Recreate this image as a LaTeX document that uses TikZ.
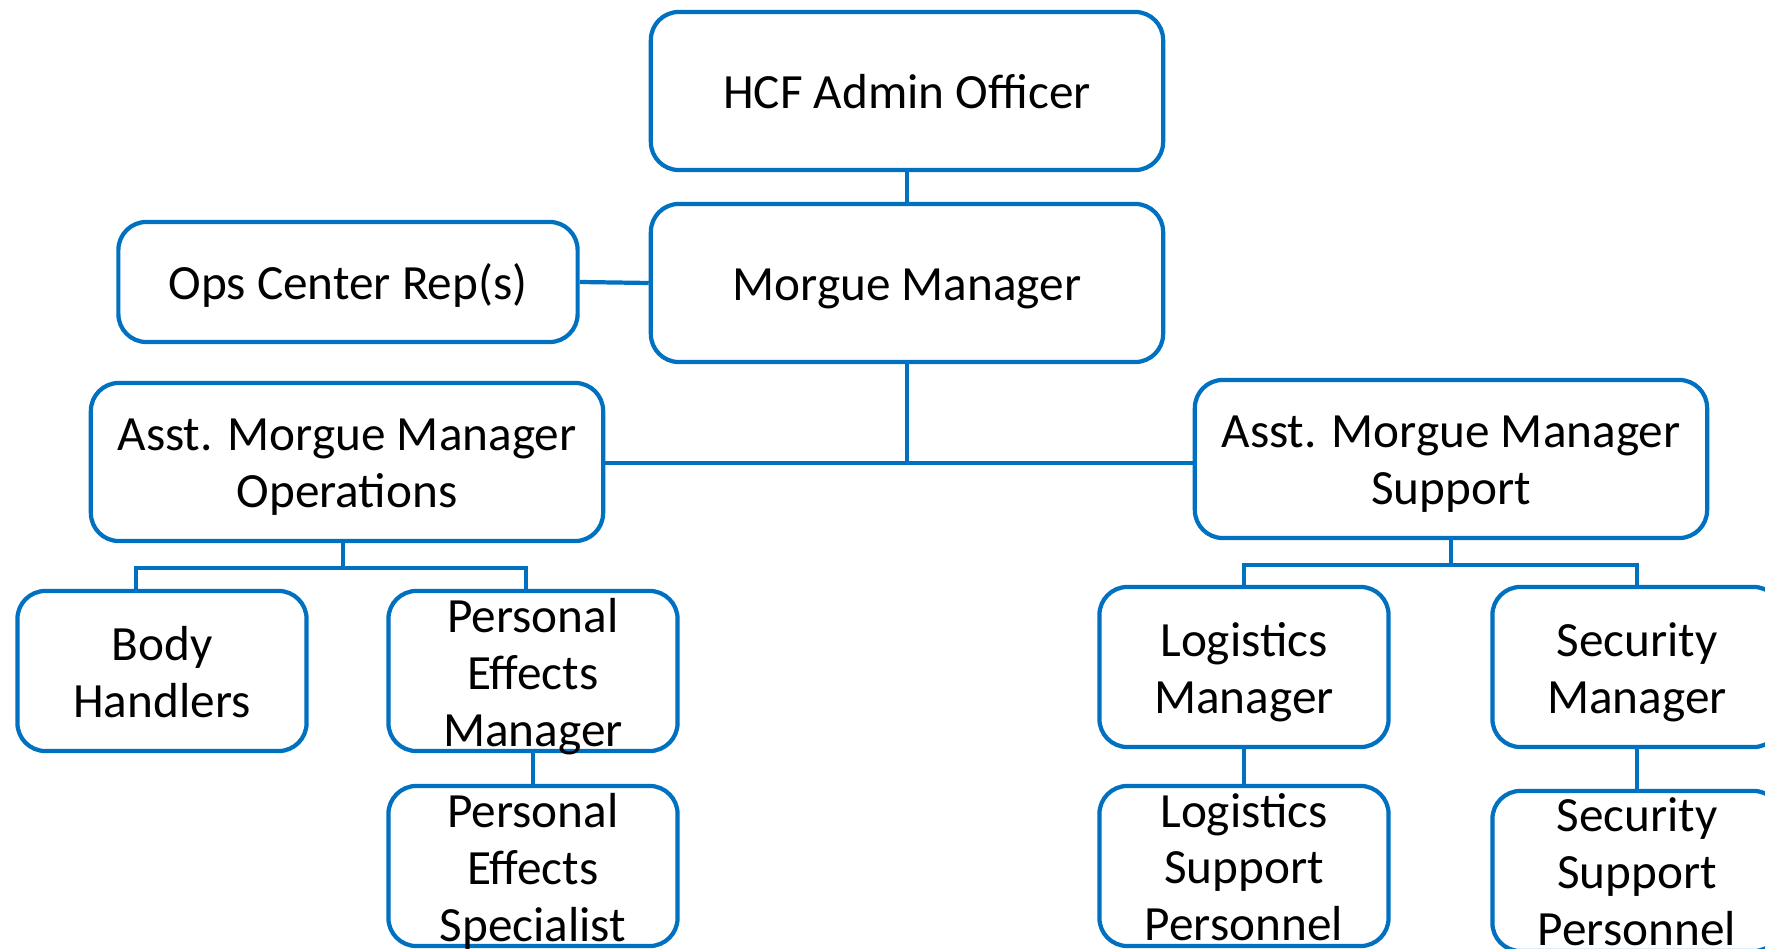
\documentclass[tikz,border=0pt]{standalone}
\usepackage{fontspec}
\setmainfont{Carlito}
\usetikzlibrary{positioning}
\definecolor{orgblue}{RGB}{0,112,192}
\newcommand\orgfont{\fontsize{14}{16.2}\selectfont}

\begin{document}
\begin{tikzpicture}[x=0.01cm,y=-0.01cm]
\tikzset{
  orgbox/.style={draw=orgblue,fill=white,line width=1.2pt,rounded corners=0.28cm,inner sep=2pt},
  widebox/.style={orgbox,minimum width=5.12cm,minimum height=1.58cm},
  smallbox/.style={orgbox,minimum width=2.89cm,minimum height=1.6cm},
  boxtext/.style={align=center,font=\orgfont,inner sep=0pt,yshift=-0.095cm,
    execute at begin node=\strut,execute at end node=\strut},
  orgline/.style={draw=orgblue,line width=1.2pt}
}
\useasboundingbox (0,0) rectangle (1765,949);
\clip (0,0) rectangle (1765,949);
\node[widebox,label={[boxtext,yshift=0.03cm]center:HCF Admin Officer}] (n_hcf) at (907,91) {};
\node[widebox,label={[boxtext,yshift=0.03cm]center:Morgue Manager}] (n_mm) at (907,283) {};
\node[orgbox,minimum width=4.59cm,minimum height=1.2cm,label={[boxtext,yshift=0.03cm]center:Ops Center Rep(s)}] (n_ops) at (348,282) {};
\node[widebox,label={[boxtext]center:Asst. Morgue Manager\\Operations}] (n_aops) at (347,462) {};
\node[widebox,label={[boxtext]center:Asst. Morgue Manager\\Support}] (n_asup) at (1451,459) {};
\node[smallbox,label={[boxtext]center:Body\\Handlers}] (n_body) at (162,671) {};
\node[smallbox,label={[boxtext]center:Personal\\Effects\\Manager}] (n_pem) at (533,671) {};
\node[smallbox,label={[boxtext]center:Personal\\Effects\\Specialist}] (n_pes) at (533,866) {};
\node[smallbox,label={[boxtext]center:Logistics\\Manager}] (n_lm) at (1244,667) {};
\node[smallbox,label={[boxtext]center:Logistics\\Support\\Personnel}] (n_lsp) at (1244,866) {};
\node[smallbox,label={[boxtext]center:Security\\Manager}] (n_sm) at (1637,667) {};
\node[smallbox,label={[boxtext]center:Security\\Support\\Personnel}] (n_ssp) at (1637,871) {};
\draw[orgline] (n_hcf) -- (n_mm);
\draw[orgline] (n_ops.east) -- (n_mm.west);
\draw[orgline] (n_mm.south) -- ++(0,99) coordinate (j_mm);
\draw[orgline] (n_aops.east |- j_mm) -- (j_mm) -- (j_mm -| n_asup.west);
\draw[orgline] ([xshift=-0.04cm]n_aops.south) -- ++(0,25) coordinate (j_ops);
\draw[orgline] ([xshift=-0.26cm]n_body.north) |- (j_ops) -| ([xshift=-0.07cm]n_pem.north);
\draw[orgline] (n_pem) -- (n_pes);
\draw[orgline] (n_asup.south) -- ++(0,25) coordinate (j_sup);
\draw[orgline] (n_lm.north) |- (j_sup) -| (n_sm.north);
\draw[orgline] (n_lm) -- (n_lsp);
\draw[orgline] (n_sm) -- (n_ssp);
\end{tikzpicture}
\end{document}
